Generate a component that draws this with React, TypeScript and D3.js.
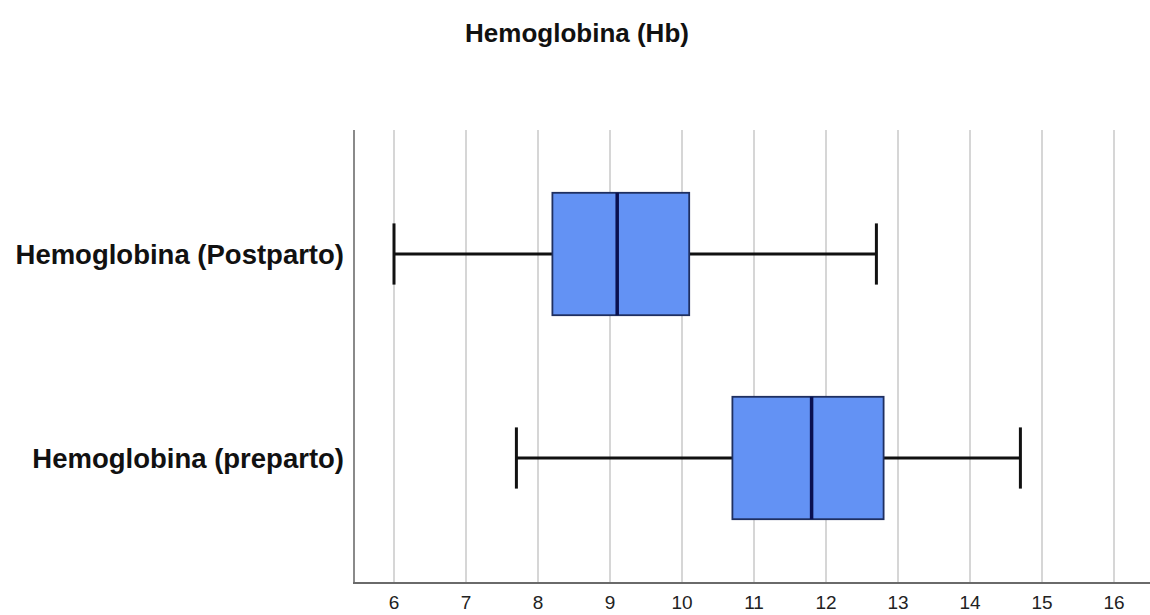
import React from "react";
import * as d3 from "d3";

const categories = ["Hemoglobina (Postparto)", "Hemoglobina (preparto)"];
const minValues = [6.0, 7.7];
const q1Values = [8.2, 10.7];
const medianValues = [9.1, 11.8];
const q3Values = [10.1, 12.8];
const maxValues = [12.7, 14.7];
const tickValues = [6, 7, 8, 9, 10, 11, 12, 13, 14, 15, 16];
const title = "Hemoglobina (Hb)";

export default function App() {
  const W = 1150;
  const H = 615;
  const plotLeft = 354;
  const plotTop = 130;
  const plotBottom = 583;
  const x = d3.scaleLinear().domain([6, 16]).range([394, 1114]);
  const y = d3
    .scaleBand<string>()
    .domain(categories)
    .range([152, 560])
    .paddingInner(0.4)
    .paddingOuter(0.2);
  const bw = y.bandwidth();
  const capH = bw * 0.5;
  const font = "'Liberation Sans', Arial, Helvetica, sans-serif";

  return (
    <svg
      width={W}
      height={H}
      style={{ position: "absolute", left: 0, top: 0, background: "#fff" }}
    >
      <rect x={0} y={0} width={W} height={H} fill="#fff" />
      <text
        x={577}
        y={42}
        textAnchor="middle"
        fontFamily={font}
        fontWeight="bold"
        fontSize={26}
        fill="#111"
      >
        {title}
      </text>
      {tickValues.map((t) => (
        <line
          key={"g" + t}
          x1={x(t)}
          x2={x(t)}
          y1={plotTop}
          y2={plotBottom}
          stroke="#c8c8c8"
          strokeWidth={1.5}
        />
      ))}
      <line x1={plotLeft} x2={plotLeft} y1={plotTop} y2={plotBottom} stroke="#8a8a8a" strokeWidth={2} />
      <line x1={plotLeft - 1} x2={W} y1={plotBottom} y2={plotBottom} stroke="#6a6a6a" strokeWidth={2} />
      {tickValues.map((t) => (
        <text
          key={"t" + t}
          x={x(t)}
          y={609}
          textAnchor="middle"
          fontFamily={font}
          fontSize={19}
          fill="#222"
        >
          {t}
        </text>
      ))}
      {categories.map((c, i) => {
        const top = y(c)!;
        const cy = top + bw / 2;
        return (
          <g key={c}>
            <line x1={x(minValues[i])} x2={x(q1Values[i])} y1={cy} y2={cy} stroke="#111" strokeWidth={3} />
            <line x1={x(q3Values[i])} x2={x(maxValues[i])} y1={cy} y2={cy} stroke="#111" strokeWidth={3} />
            <line x1={x(minValues[i])} x2={x(minValues[i])} y1={cy - capH / 2} y2={cy + capH / 2} stroke="#111" strokeWidth={3} />
            <line x1={x(maxValues[i])} x2={x(maxValues[i])} y1={cy - capH / 2} y2={cy + capH / 2} stroke="#111" strokeWidth={3} />
            <rect
              x={x(q1Values[i])}
              y={top}
              width={x(q3Values[i]) - x(q1Values[i])}
              height={bw}
              fill="#6392f4"
              stroke="#1f2f60"
              strokeWidth={1.8}
            />
            <line
              x1={x(medianValues[i])}
              x2={x(medianValues[i])}
              y1={top}
              y2={top + bw}
              stroke="#0a1050"
              strokeWidth={3.5}
            />
            <text
              x={344}
              y={cy + 10}
              textAnchor="end"
              fontFamily={font}
              fontWeight="bold"
              fontSize={27.5}
              fill="#111"
            >
              {c}
            </text>
          </g>
        );
      })}
    </svg>
  );
}
